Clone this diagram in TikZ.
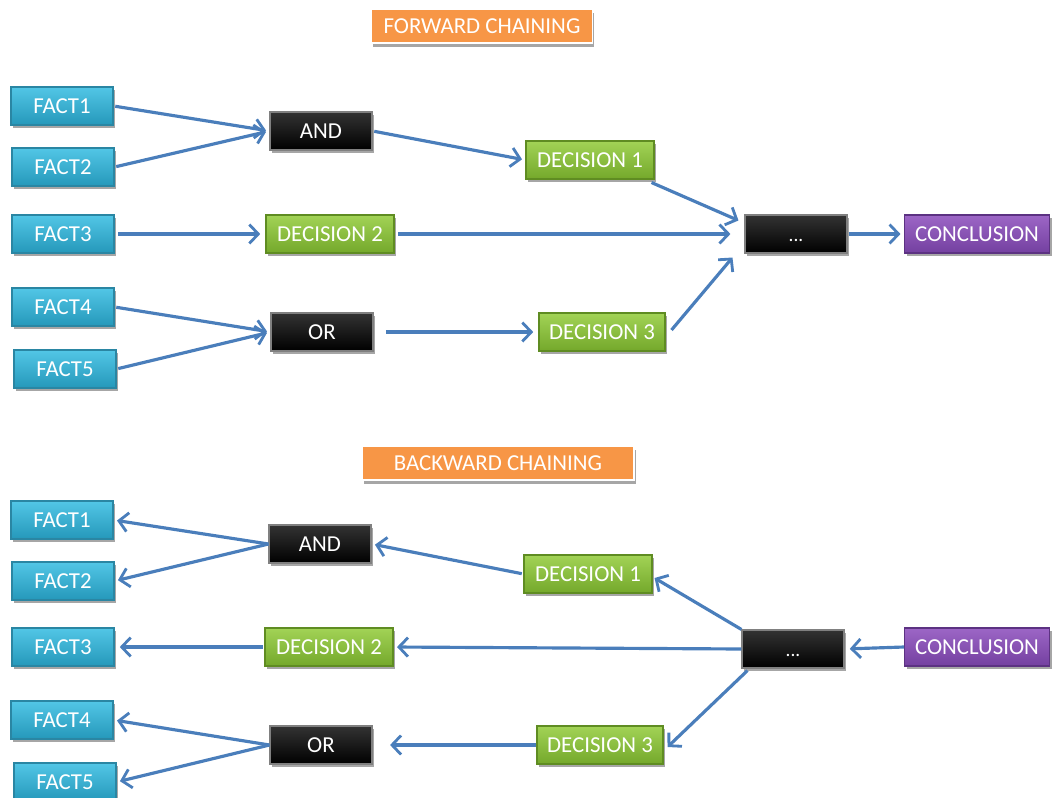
\documentclass[tikz,border=0pt]{standalone}
\usepackage{fontspec}
\setmainfont{Carlito}
\usetikzlibrary{arrows.meta,shadows,calc}
\definecolor{factT}{HTML}{52C6E6}
\definecolor{factB}{HTML}{2598BA}
\definecolor{factD}{HTML}{2A86A3}
\definecolor{decT}{HTML}{A2D356}
\definecolor{decB}{HTML}{74A82B}
\definecolor{decD}{HTML}{5F8C22}
\definecolor{conT}{HTML}{9C66C6}
\definecolor{conB}{HTML}{7440A0}
\definecolor{conD}{HTML}{5C3282}
\definecolor{orng}{HTML}{F79646}
\definecolor{arr}{HTML}{4A7EBB}
\tikzset{
  box/.style={minimum height=0.76cm, inner sep=0pt, text=white, font=\fontsize{13}{15}\selectfont,
    line width=0.6pt, drop shadow={shadow xshift=1.2pt, shadow yshift=-1.5pt, opacity=0.35, fill=black}},
  factbox/.style={box, minimum width=2.04cm, top color=factT, bottom color=factB, draw=factD},
  decbox/.style={box, minimum width=2.56cm, top color=decT, bottom color=decB, draw=decD},
  opbox/.style={box, minimum width=2.04cm, top color=black!80, bottom color=black, draw=black!50},
  dotsbox/.style={opbox, font=\fontsize{11}{13}\selectfont, text height=9pt, text depth=0pt},
  conbox/.style={box, minimum width=2.9cm, top color=conT, bottom color=conB, draw=conD},
  titlebox/.style={minimum height=0.68cm, inner sep=0pt, text=white, fill=orng, draw=white, line width=1pt,
    font=\fontsize{13}{15}\selectfont,
    drop shadow={shadow xshift=1pt, shadow yshift=-2pt, opacity=0.35, fill=black}},
  link/.style={draw=arr, line width=1.8pt, -{Straight Barb[length=1.8mm, width=3.8mm, line width=1.6pt]}},
}
\begin{document}
\begin{tikzpicture}[x=0.02cm, y=-0.02cm]
\useasboundingbox (0,0) rectangle (1052,798);
% ---------------- Forward chaining ----------------
\node[titlebox, minimum width=4.42cm] (tf) at (482,26) {FORWARD CHAINING};
\node[factbox] (f1) at (62,106) {FACT1};
\node[factbox] (f2) at (63,167) {FACT2};
\node[factbox] (f3) at (63,234) {FACT3};
\node[factbox] (f4) at (63,307) {FACT4};
\node[factbox] (f5) at (65,369) {FACT5};
\node[opbox] (and) at (321,131) {AND};
\node[opbox] (or) at (322,332) {OR};
\node[decbox] (d1) at (590,160) {DECISION 1};
\node[decbox] (d2) at (330,234) {DECISION 2};
\node[decbox, minimum width=2.52cm] (d3) at (602,332) {DECISION 3};
\node[dotsbox] (dots) at (796,234) {...};
\node[conbox] (con) at (977,234) {CONCLUSION};

\draw[link, shorten <=1pt, shorten >=2pt] (f1.east) -- (and.west);
\draw[link, shorten <=1pt, shorten >=2pt] (f2.east) -- (and.west);
\draw[link, shorten <=2pt, shorten >=3pt] (f3.east) -- (d2.west);
\draw[link, shorten <=1pt, shorten >=2pt] (and.east) -- (d1.west);
\draw[link] ($(d1.south east)+(-3,3)$) -- ($(dots.north west)+(-6,6)$);
\draw[link, shorten <=2pt, shorten >=8pt] (d2.east) -- (dots.west);
\draw[link] ($(d3.east)+(6,-2)$) -- ($(dots.south west)+(-12,4)$);
\draw[link, shorten <=1pt, shorten >=2pt] (dots.east) -- (con.west);
\draw[link, shorten <=1pt, shorten >=2pt] (f4.east) -- (or.west);
\draw[link, shorten <=1pt, shorten >=2pt] (f5.east) -- (or.west);
\draw[link, shorten <=7pt, shorten >=3pt] (or.east) -- (d3.west);

% ---------------- Backward chaining ----------------
\node[titlebox, minimum width=5.44cm] (tb) at (498,463) {BACKWARD CHAINING};
\node[factbox] (b1) at (62,520) {FACT1};
\node[factbox] (b2) at (63,581) {FACT2};
\node[factbox] (b3) at (63,647) {FACT3};
\node[factbox] (b4) at (62,720) {FACT4};
\node[factbox] (b5) at (65,782) {FACT5};
\node[opbox] (band) at (320,544) {AND};
\node[opbox] (bor) at (321,745) {OR};
\node[decbox] (e1) at (588,574) {DECISION 1};
\node[decbox] (e2) at (329,647) {DECISION 2};
\node[decbox, minimum width=2.52cm] (e3) at (600,745) {DECISION 3};
\node[dotsbox] (bdots) at (793,649) {...};
\node[conbox] (bcon) at (977,647) {CONCLUSION};

\draw[link, shorten >=2pt] (band.west) -- (b1.east);
\draw[link, shorten >=2pt] (band.west) -- (b2.east);
\draw[link, shorten <=1pt, shorten >=3pt] (e2.west) -- (b3.east);
\draw[link, shorten <=1pt, shorten >=2pt] (e1.west) -- (band.east);
\draw[link] (bdots.north west) -- ($(e1.east)+(2,4)$);
\draw[link, shorten >=2pt] (bdots.west) -- (e2.east);
\draw[link] ($(bdots.south west)+(6,2)$) -- ($(e3.east)+(4,2)$);
\draw[link, shorten >=3pt] (bcon.west) -- (bdots.east);
\draw[link, shorten >=2pt] (bor.west) -- (b4.east);
\draw[link, shorten >=2pt] (bor.west) -- (b5.east);
\draw[link, shorten >=10pt] (e3.west) -- (bor.east);
\end{tikzpicture}
\end{document}
